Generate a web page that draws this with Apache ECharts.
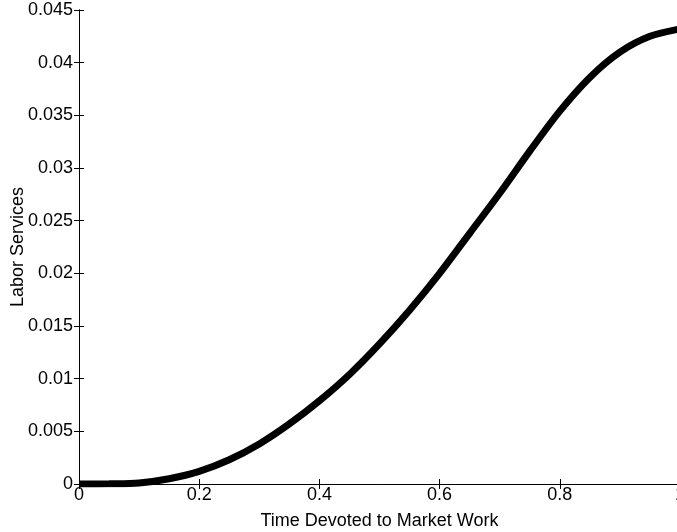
<!DOCTYPE html>
<html>
<head>
<meta charset="utf-8">
<script src="https://cdn.jsdelivr.net/npm/echarts@6/dist/echarts.min.js"></script>
<style>html,body{margin:0;padding:0;background:#fff}#c{width:677px;height:532px}</style>
</head>
<body>
<div id="c"></div>
<script>
const timeShare = [0, 0.05, 0.1, 0.15, 0.2, 0.25, 0.3, 0.35, 0.4, 0.45, 0.5, 0.55, 0.6, 0.65, 0.7, 0.75, 0.8, 0.85, 0.9, 0.95, 1.0];
const laborServices = [0, 0.00002, 0.0001, 0.0005, 0.0012, 0.0023, 0.0038, 0.0057, 0.0079, 0.0104, 0.0133, 0.0165, 0.0200, 0.0238, 0.0276, 0.0316, 0.0354, 0.0386, 0.0410, 0.0425, 0.0432];
const xTickLabels = ['0', '0.2', '0.4', '0.6', '0.8', '1'];
const yTickLabels = ['0', '0.005', '0.01', '0.015', '0.02', '0.025', '0.03', '0.035', '0.04', '0.045'];

const font = 'Liberation Sans, Arial, Helvetica, sans-serif';
const chart = echarts.init(document.getElementById('c'), null, {renderer: 'canvas'});
const axisLine = {show: true, lineStyle: {color: '#000', width: 1}};
const tick = {show: true, inside: true, length: 5, lineStyle: {color: '#000', width: 1}};
chart.setOption({
  animation: false,
  grid: {left: 79, top: 10, width: 601, height: 474, containLabel: false, outerBoundsMode: 'none'},
  xAxis: [{
    type: 'value', min: 0, max: 1, interval: 0.2,
    name: 'Time Devoted to Market Work', nameLocation: 'middle', nameGap: 28, nameMoveOverlap: false,
    nameTextStyle: {color: '#000', fontSize: 18, fontFamily: font},
    axisLine: axisLine, axisTick: tick, splitLine: {show: false},
    axisLabel: {color: '#000', fontSize: 18, fontFamily: font, margin: 2,
      formatter: v => xTickLabels[Math.round(v / 0.2)] }
  }, {
    type: 'value', position: 'top', min: 0, max: 1, interval: 0.2,
    axisLine: axisLine, axisTick: tick, axisLabel: {show: false}, splitLine: {show: false}
  }],
  yAxis: [{
    type: 'value', min: 0, max: 0.045, interval: 0.005,
    name: 'Labor Services', nameLocation: 'middle', nameGap: 52, nameRotate: 90, nameMoveOverlap: false,
    nameTextStyle: {color: '#000', fontSize: 18, fontFamily: font},
    axisLine: axisLine, axisTick: tick, splitLine: {show: false},
    axisLabel: {color: '#000', fontSize: 18, fontFamily: font, margin: 6,
      formatter: v => yTickLabels[Math.round(v / 0.005)] }
  }, {
    type: 'value', position: 'right', min: 0, max: 0.045, interval: 0.005,
    axisLine: axisLine, axisTick: tick, axisLabel: {show: false}, splitLine: {show: false}
  }],
  series: [{
    type: 'line', xAxisIndex: 0, yAxisIndex: 0,
    data: timeShare.map((x, i) => [x, laborServices[i]]),
    smooth: 0.3, showSymbol: false,
    lineStyle: {color: '#000', width: 7, cap: 'butt'}
  }]
});
</script>
</body>
</html>
